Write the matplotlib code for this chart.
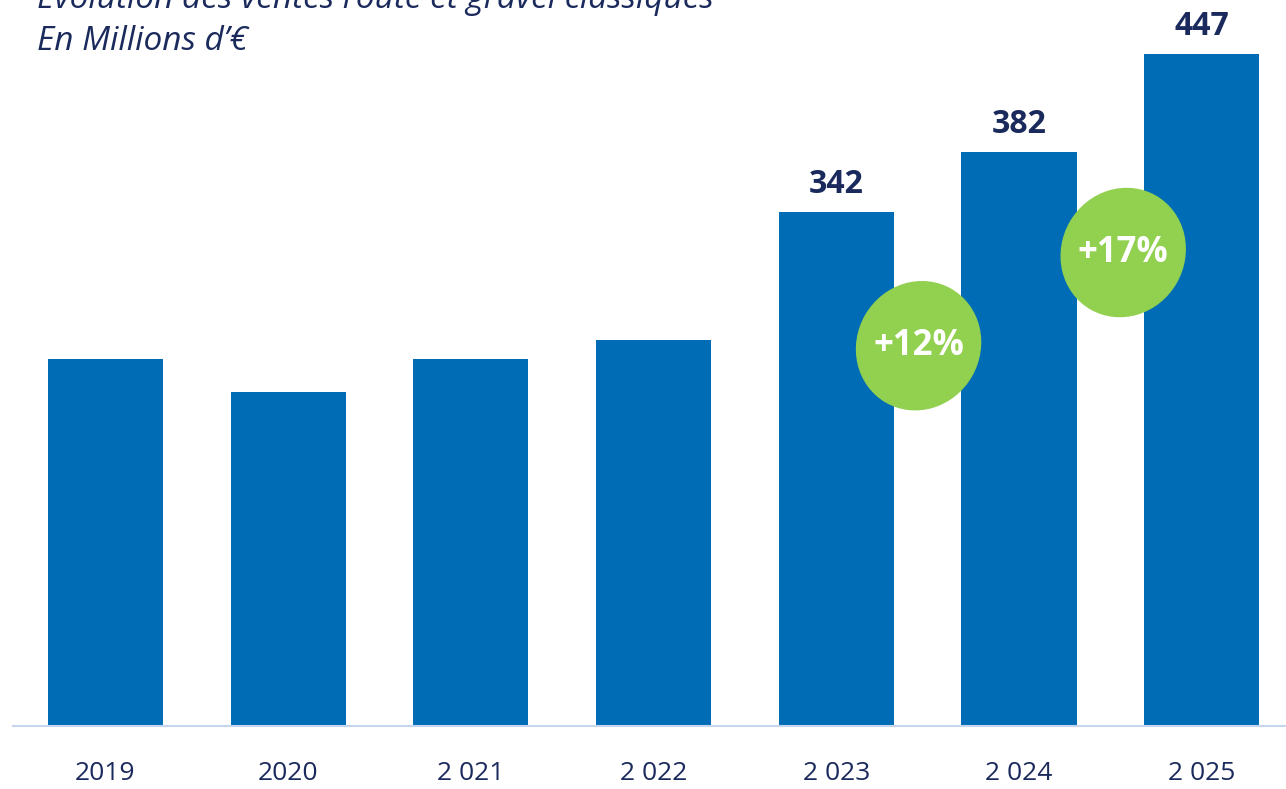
import matplotlib.pyplot as plt
from matplotlib.patches import Ellipse
from matplotlib.transforms import IdentityTransform

# data
years = ['2019', '2020', '2 021', '2 022', '2 023', '2 024', '2 025']
sales = [244, 222, 244, 257, 342, 382, 447]
labelled = [False, False, False, False, True, True, True]
growth_text = ['+12%', '+17%']
growth_pos = [(4.45, 253), (5.57, 315)]     # bubble centres, data coords

title_1 = 'Evolution des ventes route et gravel classiques'
title_2 = 'En Millions d\u2019\u20ac'

BLUE = '#006cb5'
NAVY = '#1b2a5c'
GREEN = '#92d050'
AXIS = '#c6d5ee'

plt.rcParams['font.family'] = ['Open Sans', 'DejaVu Sans']

fig = plt.figure(figsize=(12.86, 7.89), dpi=100)
ax = fig.add_axes([13 / 1286, 63 / 789, 1 - 13 / 1286, (726 - 4.5) / 789])

x = range(len(years))
bars = ax.bar(x, sales, width=0.63, color=BLUE, zorder=2)

for b, v, show in zip(bars, sales, labelled):
    if show:
        ax.annotate(str(v),
                    (b.get_x() + b.get_width() / 2, v),
                    xytext=(0, 8), textcoords='offset points',
                    ha='center', va='bottom',
                    fontsize=23, fontweight='bold', color=NAVY,
                    annotation_clip=False)

ax.set_xlim(-0.506, 6.461)
ax.set_ylim(0, 480)

ax.set_xticks(list(x))
ax.set_xticklabels(years, fontsize=19, color=NAVY)
ax.tick_params(axis='x', length=0, pad=25)
ax.set_yticks([])

for s in ['top', 'right', 'left']:
    ax.spines[s].set_visible(False)
ax.spines['bottom'].set_color(AXIS)
ax.spines['bottom'].set_linewidth(1.5)

# green growth bubbles, sized in pixels so they stay round
fig.canvas.draw()
for txt, (bx, by) in zip(growth_text, growth_pos):
    cx, cy = ax.transData.transform((bx, by))
    blob = Ellipse((cx, cy), 130, 122, angle=60,
                   transform=IdentityTransform(), color=GREEN,
                   zorder=3, clip_on=False)
    ax.add_patch(blob)
    ax.text(bx, by, txt, ha='center', va='center', fontsize=25,
            fontweight='bold', color='white', zorder=4)

# the first title line sits partly above the picture, as in the original slide
fig.text(37 / 1286, 1 - 8 / 789, title_1, ha='left', va='baseline',
         fontsize=24, style='italic', color=NAVY)
fig.text(37 / 1286, 1 - 50 / 789, title_2, ha='left', va='baseline',
         fontsize=24, style='italic', color=NAVY)

fig.savefig('out.png', dpi=100)
